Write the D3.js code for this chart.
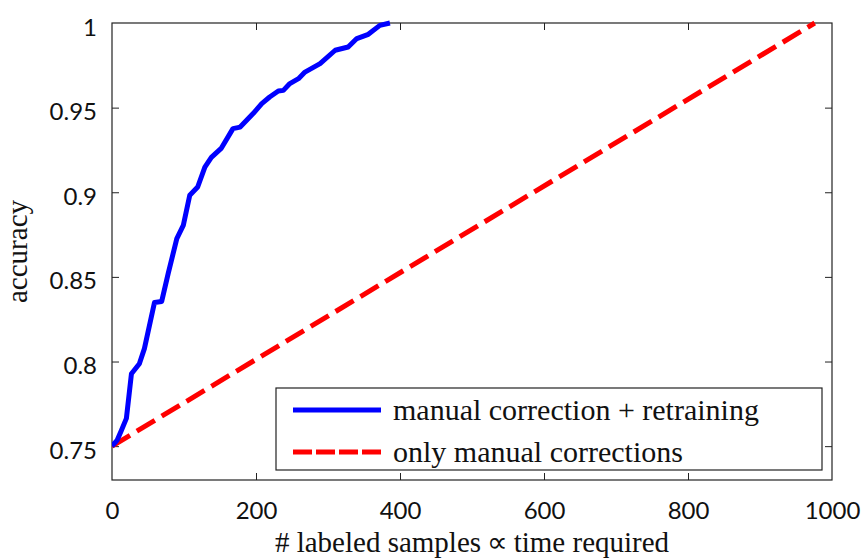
<!DOCTYPE html>
<html>
<head>
<meta charset="utf-8">
<script src="https://cdn.jsdelivr.net/npm/d3@7"></script>
<style>
  html, body { margin: 0; padding: 0; background: #fff; }
  svg { display: block; }
  .tick text { font-family: Lato, "Open Sans", sans-serif; font-size: 24px; fill: #111; }
  .domain { display: none; }
  .tick line { stroke: #222; stroke-width: 1; }
</style>
</head>
<body>
<svg id="chart" width="862" height="559"></svg>
<script>
// Accuracy as labeled samples grow, with and without retraining
const retrainSamples = [0, 7, 13, 20, 27, 38, 45, 59, 69, 78, 90, 99, 108, 119, 129, 138, 152, 168, 178, 196,
  208, 219, 231, 238, 247, 259, 268, 289, 310, 328, 340, 356, 372, 386];
const retrainAccuracy = [0.750, 0.7534, 0.7593, 0.7664, 0.7928, 0.7987, 0.8076, 0.8349, 0.8355, 0.8519,
  0.8726, 0.8804, 0.8982, 0.9031, 0.9149, 0.9206, 0.9261, 0.9376, 0.9385, 0.9465,
  0.9524, 0.9563, 0.9598, 0.9602, 0.9642, 0.9671, 0.9710, 0.9760, 0.9839, 0.9858,
  0.9908, 0.9933, 0.9986, 1.000];

const manualSamples = [0, 976];
const manualAccuracy = [0.75, 1.0];

const xTicks = [0, 200, 400, 600, 800, 1000];
const yTicks = [0.75, 0.8, 0.85, 0.9, 0.95, 1];

const seriesNames = ["manual correction + retraining", "only manual corrections"];
const seriesColors = ["#0000ff", "#ff0000"];

const margin = { left: 112, top: 23, right: 862 - 832, bottom: 559 - 480 };
const width = 862, height = 559;
const svg = d3.select("#chart");

const x = d3.scaleLinear().domain([0, 1000]).range([margin.left, width - margin.right]);
const y = d3.scaleLinear().domain([0.73, 1]).range([height - margin.bottom, margin.top]);

svg.append("defs").append("clipPath").attr("id", "plotClip")
  .append("rect")
  .attr("x", x(0)).attr("y", y(1) - 3)
  .attr("width", x(1000) - x(0)).attr("height", y(0.73) - y(1) + 3);

// inward ticks on all four sides
const tickLen = 7;
svg.append("g").attr("transform", `translate(0,${y(0.73)})`)
  .call(d3.axisBottom(x).tickValues(xTicks).tickSize(-tickLen).tickPadding(22).tickFormat(d3.format("d")));
svg.append("g").attr("transform", `translate(0,${y(1)})`)
  .call(d3.axisTop(x).tickValues(xTicks).tickSize(-tickLen).tickFormat(""));
svg.append("g").attr("class", "yaxis").attr("transform", `translate(${x(0)},0)`)
  .call(d3.axisLeft(y).tickValues(yTicks).tickSize(-tickLen).tickPadding(15).tickFormat(d => String(d)));
svg.select(".yaxis").selectAll(".tick text").attr("dy", "0.5em");
svg.append("g").attr("transform", `translate(${x(1000)},0)`)
  .call(d3.axisRight(y).tickValues(yTicks).tickSize(-tickLen).tickFormat(""));

// hide the outermost ticks that coincide with the frame
svg.selectAll(".tick line").filter(function () {
  const t = d3.select(this.parentNode).datum();
  return t === 0 || t === 1000 || t === 1;
}).attr("stroke-opacity", 0);

// plot frame
svg.append("rect")
  .attr("x", x(0)).attr("y", y(1))
  .attr("width", x(1000) - x(0)).attr("height", y(0.73) - y(1))
  .attr("fill", "none").attr("stroke", "#222").attr("stroke-width", 1.2);

const line = d3.line().x(d => x(d[0])).y(d => y(d[1]));
const plot = svg.append("g").attr("clip-path", "url(#plotClip)");

plot.append("path")
  .datum(manualSamples.map((s, i) => [s, manualAccuracy[i]]))
  .attr("d", line)
  .attr("fill", "none").attr("stroke", seriesColors[1]).attr("stroke-width", 5)
  .attr("stroke-dasharray", "21,8");

plot.append("path")
  .datum(retrainSamples.map((s, i) => [s, retrainAccuracy[i]]))
  .attr("d", line)
  .attr("fill", "none").attr("stroke", seriesColors[0]).attr("stroke-width", 5)
  .attr("stroke-linejoin", "round");

// axis titles
svg.append("text")
  .attr("x", (x(0) + x(1000)) / 2).attr("y", 552)
  .attr("text-anchor", "middle")
  .style("font-family", "'Liberation Serif', serif").style("font-size", "29px").style("fill", "#111")
  .text("# labeled samples\u2009\u221D\u2009time required");

svg.append("text")
  .attr("transform", `translate(27,${(y(1) + y(0.73)) / 2}) rotate(-90)`)
  .attr("text-anchor", "middle")
  .style("font-family", "'Liberation Serif', serif").style("font-size", "29px").style("fill", "#111")
  .text("accuracy");

// legend
const legend = svg.append("g");
legend.append("rect")
  .attr("x", 276).attr("y", 388).attr("width", 546).attr("height", 82)
  .attr("fill", "#fff").attr("stroke", "#222").attr("stroke-width", 1.2);
const rows = [
  { name: seriesNames[0], color: seriesColors[0], dash: null, cy: 410 },
  { name: seriesNames[1], color: seriesColors[1], dash: "19,4", cy: 452 }
];
rows.forEach(r => {
  legend.append("line")
    .attr("x1", 293).attr("x2", 381).attr("y1", r.cy).attr("y2", r.cy)
    .attr("stroke", r.color).attr("stroke-width", 5)
    .attr("stroke-dasharray", r.dash);
  legend.append("text")
    .attr("x", 393).attr("y", r.cy + 10)
    .style("font-family", "'Liberation Serif', serif").style("font-size", "30px").style("fill", "#111")
    .text(r.name);
});
</script>
</body>
</html>
